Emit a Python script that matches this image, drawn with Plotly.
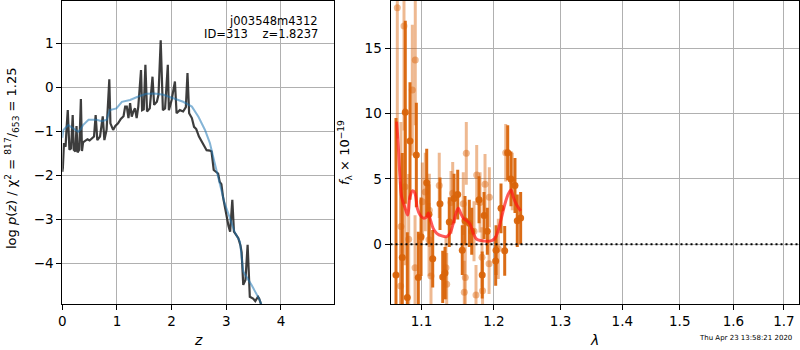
import plotly.graph_objects as go

# ---------------- left panel: redshift probability ----------------
pz_z = [0.0, 0.01, 0.03, 0.06, 0.08, 0.10, 0.13, 0.16, 0.19, 0.21, 0.24, 0.26, 0.28, 0.31, 0.34,
        0.36, 0.38, 0.42, 0.46, 0.50, 0.54, 0.58, 0.61, 0.64, 0.69, 0.74, 0.77, 0.81, 0.86,
        0.88, 0.93, 0.97, 1.02, 1.07, 1.12, 1.15, 1.18, 1.21, 1.24, 1.27, 1.30, 1.33, 1.36,
        1.39, 1.44, 1.46, 1.49, 1.52, 1.55, 1.60, 1.65, 1.68, 1.73, 1.76, 1.80, 1.84, 1.88,
        1.93, 1.95, 2.00, 2.06, 2.09, 2.15, 2.21, 2.26, 2.29, 2.32, 2.37, 2.41, 2.45, 2.50,
        2.55, 2.58, 2.64, 2.70, 2.73, 2.77, 2.81, 2.85, 2.88, 2.91, 2.94, 3.00, 3.04, 3.07,
        3.11, 3.14, 3.18, 3.22, 3.26, 3.28, 3.31, 3.35, 3.39, 3.43, 3.49, 3.53, 3.58, 3.60,
        3.63, 3.66]
pz_logp = [-1.92, -1.84, -1.27, -1.35, -0.90, -0.52, -1.42, -1.39, -0.63, -1.42, -1.46, -0.88, -1.48,
           -1.42, -0.27, -1.45, -1.25, -1.22, -1.18, -1.21, -1.16, -1.12, -0.63, -1.20, -1.12, -0.66,
           -1.20, -0.97, 0.18, -0.82, -0.97, -0.88, -0.82, -0.72, -0.66, -0.44, -0.44, -0.70, -0.36,
           -0.67, -0.55, -0.48, -0.70, -0.44, 0.39, -0.52, -0.50, 0.51, -0.55, -0.48, 0.24, -0.40,
           -0.33, -0.17, 1.07, -0.52, -0.48, 0.51, -0.52, -0.29, 0.13, -0.59, -0.52, -0.55, -0.45,
           0.32, -0.59, -0.70, -0.90, -0.95, -1.12, -1.22, -1.31, -1.43, -1.44, -1.46, -1.88, -1.92,
           -1.96, -2.15, -2.20, -2.49, -2.90, -3.15, -3.28, -2.56, -3.28, -3.35, -3.43, -3.60, -3.75,
           -4.49, -4.38, -3.58, -4.76, -4.80, -4.86, -4.76, -4.80, -4.91, -5.20]

prior_z = [0.0, 0.02, 0.11, 0.20, 0.29, 0.34, 0.38, 0.48, 0.63, 0.72, 0.81, 0.87, 0.99, 1.09, 1.24,
           1.39, 1.54, 1.69, 1.85, 2.03, 2.21, 2.37, 2.49, 2.61, 2.70, 2.79, 2.88, 2.97, 3.06,
           3.15, 3.25, 3.31, 3.46, 3.61, 3.66]
prior_logp = [-1.15, -0.97, -0.86, -0.93, -1.01, -0.95, -0.86, -0.74, -0.74, -0.77, -0.74, -0.52,
              -0.48, -0.33, -0.29, -0.21, -0.15, -0.14, -0.17, -0.25, -0.33, -0.44, -0.67, -0.97,
              -1.27, -1.73, -2.18, -2.64, -2.95, -3.28, -3.51, -4.19, -4.49, -4.83, -5.00]

# ---------------- right panel: 1D spectrum ----------------
lam_a = [1.0668, 1.0749, 1.0788, 1.0814, 1.0849, 1.0932, 1.0958, 1.0994, 1.1069, 1.1099, 1.1149,
         1.1247, 1.1284, 1.1315, 1.1373, 1.1438, 1.1489, 1.1552, 1.1590, 1.1650, 1.1684, 1.1787,
         1.1832, 1.1858, 1.1905, 1.2025, 1.2030, 1.2102, 1.2156, 1.2200, 1.2248, 1.2307, 1.2341,
         1.2391]
flux_a = [-2.35, -1.02, 10.1, -4.08, 7.9, 6.83, -2.55, 0.58, 4.71, 2.3, -1.1,
          3.1, -2.5, -2.2, 1.7, 3.5, 3.8, -0.45, 1.8, 1.6, 1.0, 3.4,
          -2.35, 2.2, 1.0, -1.28, -0.45, 2.75, -0.5, 7.0, 5.0, 4.5, 1.8,
          2.0]
err_a = [12.0, 8.0, 7.0, 5.0, 4.5, 4.0, 3.5, 3.0, 2.6, 2.3, 2.2,
         2.0, 2.0, 2.0, 1.9, 1.9, 1.9, 1.9, 1.9, 1.8, 1.8, 1.8,
         1.8, 1.8, 1.8, 1.9, 1.9, 1.9, 1.9, 2.1, 2.1, 2.1, 2.0,
         2.0]

lam_b = [1.0685, 1.0728, 1.0732, 1.0771, 1.0784, 1.0832, 1.0879, 1.0915, 1.0918, 1.1011, 1.1050,
         1.1100, 1.1104, 1.1126, 1.1237, 1.1328, 1.1338, 1.1397, 1.1420, 1.1566, 1.1580, 1.1594,
         1.1608, 1.1716, 1.1744, 1.1754, 1.1801, 1.1829, 1.1837, 1.1872, 1.1930, 1.1934, 1.2063,
         1.2171, 1.2267]
flux_b = [18.1, -3.19, 1.35, 16.7, 4.4, 0.38, 11.8, -1.79, 14.1, 3.26, 4.0,
          0.35, 2.6, -2.43, 4.5, -1.8, -3.06, 3.2, 3.9, 3.1, -3.67, -2.55,
          6.96, 1.0, -3.88, 5.3, 3.2, -1.0, -3.55, 4.6, -1.5, 3.6, -0.35,
          7.0, 4.8]
err_b = [10.0, 8.0, 8.0, 8.0, 6.0, 5.0, 5.0, 4.0, 5.0, 3.0, 3.0,
         2.8, 2.8, 2.6, 2.5, 2.4, 2.4, 2.4, 2.4, 2.4, 2.4, 2.4,
         2.4, 2.3, 2.3, 2.3, 2.3, 2.3, 2.3, 2.3, 2.3, 2.3, 2.3,
         2.2, 2.2]

model_lam = [1.0677, 1.0698, 1.0719, 1.0741, 1.0784, 1.0819, 1.0849, 1.0884, 1.0914, 1.0945, 1.0981,
             1.1024, 1.1069, 1.1090, 1.1112, 1.1157, 1.1203, 1.1271, 1.1338, 1.1383, 1.1428, 1.1465,
             1.1497, 1.1530, 1.1566, 1.1614, 1.1660, 1.1706, 1.1754, 1.1825, 1.1896, 1.1968, 1.2015,
             1.2063, 1.2112, 1.2160, 1.2209, 1.2248, 1.2283, 1.2333, 1.2391]
model_flux = [9.38, 7.47, 5.17, 3.6, 2.8, 2.24, 3.64, 4.1, 3.9, 2.75, 2.24,
              2.0, 2.1, 2.4, 2.0, 1.2, 0.84, 0.64, 0.59, 0.84, 1.6, 2.37,
              2.75, 2.37, 2.0, 1.8, 1.55, 0.84, 0.38, 0.28, 0.23, 0.28, 0.46,
              1.1, 2.1, 3.1, 3.85, 4.16, 3.6, 3.0, 2.55]

z_ticks = [0, 1, 2, 3, 4]
logp_ticks = [-4, -3, -2, -1, 0, 1]
lam_ticks = [1.1, 1.2, 1.3, 1.4, 1.5, 1.6, 1.7]
flux_ticks = [0, 5, 10, 15]

W, H = 800, 350
FONT = "DejaVu Sans"

fig = go.Figure()

fig.add_trace(go.Scatter(x=pz_z, y=pz_logp, mode="lines",
                         line=dict(color="rgba(40,40,40,0.9)", width=2.2),
                         xaxis="x", yaxis="y", hoverinfo="skip"))
fig.add_trace(go.Scatter(x=prior_z, y=prior_logp, mode="lines",
                         line=dict(color="rgba(31,119,180,0.55)", width=2),
                         xaxis="x", yaxis="y", hoverinfo="skip"))

orange = "217,100,10"
fig.add_trace(go.Scatter(x=lam_b, y=flux_b, mode="markers",
                         marker=dict(color=f"rgba({orange},0.45)", size=7),
                         error_y=dict(type="data", array=err_b, visible=True, thickness=3, width=0,
                                      color=f"rgba({orange},0.45)"),
                         xaxis="x2", yaxis="y2", hoverinfo="skip", cliponaxis=True))
fig.add_trace(go.Scatter(x=lam_a, y=flux_a, mode="markers",
                         marker=dict(color=f"rgba({orange},0.95)", size=7),
                         error_y=dict(type="data", array=err_a, visible=True, thickness=3, width=0,
                                      color=f"rgba({orange},0.95)"),
                         xaxis="x2", yaxis="y2", hoverinfo="skip", cliponaxis=True))
fig.add_trace(go.Scatter(x=model_lam, y=model_flux, mode="lines",
                         line=dict(color="rgba(255,20,20,0.7)", width=3, shape="spline"),
                         xaxis="x2", yaxis="y2", hoverinfo="skip"))

fig.add_shape(type="line", xref="x2 domain", x0=0, x1=1, yref="y2", y0=0, y1=0,
              line=dict(color="black", width=2, dash="2px,3px"))

common = dict(showgrid=True, gridcolor="#b0b0b0", gridwidth=1, showline=True, linecolor="black",
              linewidth=1, mirror=True, ticks="outside", ticklen=5, tickcolor="black",
              tickfont=dict(size=13.5, color="black", family=FONT), zeroline=False, automargin=False)

def px_x(p):
    return p / W

def px_y(p):
    return 1 - p / H

fig.update_layout(
    width=W, height=H, margin=dict(l=0, r=0, t=0, b=0),
    paper_bgcolor="white", plot_bgcolor="white", showlegend=False,
    font=dict(family=FONT, color="black"),
    xaxis=dict(common, domain=[px_x(62.3), px_x(334)], range=[0, 4.97], tickvals=z_ticks, anchor="y"),
    yaxis=dict(common, domain=[px_y(304), px_y(1)], range=[-4.925, 1.96], tickvals=logp_ticks, anchor="x"),
    xaxis2=dict(common, domain=[px_x(390.5), px_x(799)], type="log", range=[0.02522, 0.2383],
                tickvals=lam_ticks, ticktext=[f"{v:.1f}" for v in lam_ticks], anchor="y2"),
    yaxis2=dict(common, domain=[px_y(304), px_y(1)], range=[-4.57, 18.61], tickvals=flux_ticks, anchor="x2"),
)

ann = [
    dict(text="j003548m4312", x=px_x(320), y=px_y(20.5), xanchor="right", yanchor="middle", size=11.5),
    dict(text="ID=313\u00a0\u00a0\u00a0\u00a0z=1.8237", x=px_x(320), y=px_y(34), xanchor="right",
         yanchor="middle", size=11.5),
    dict(text="<i>z</i>", x=px_x(198), y=px_y(340), xanchor="center", yanchor="middle", size=14),
    dict(text="<i>λ</i>", x=px_x(594), y=px_y(340), xanchor="center", yanchor="middle", size=14),
    dict(text="Thu Apr 23 13:58:21 2020", x=px_x(697), y=px_y(338), xanchor="left", yanchor="middle", size=7),
]
for a in ann:
    fig.add_annotation(text=a["text"], xref="paper", yref="paper", x=a["x"], y=a["y"],
                       xanchor=a["xanchor"], yanchor=a["yanchor"], showarrow=False,
                       font=dict(size=a["size"], family=FONT, color="black"))

fig.add_annotation(text="log <i>p</i>(<i>z</i>) / χ<sup>2</sup> = <sup>817</sup>/<sub>653</sub> = 1.25",
                   xref="paper", yref="paper", x=px_x(12), y=px_y(158), textangle=-90,
                   xanchor="center", yanchor="middle", showarrow=False,
                   font=dict(size=13, family=FONT, color="black"))
fig.add_annotation(text="<i>f</i><sub>λ</sub> × 10<sup>−19</sup>",
                   xref="paper", yref="paper", x=px_x(345), y=px_y(153), textangle=-90,
                   xanchor="center", yanchor="middle", showarrow=False,
                   font=dict(size=13, family=FONT, color="black"))

fig.write_html("out.html", config={"displayModeBar": False, "staticPlot": True},
               post_script="document.body.style.margin='0';document.body.style.padding='0';"
                           "document.body.style.overflow='hidden';")
